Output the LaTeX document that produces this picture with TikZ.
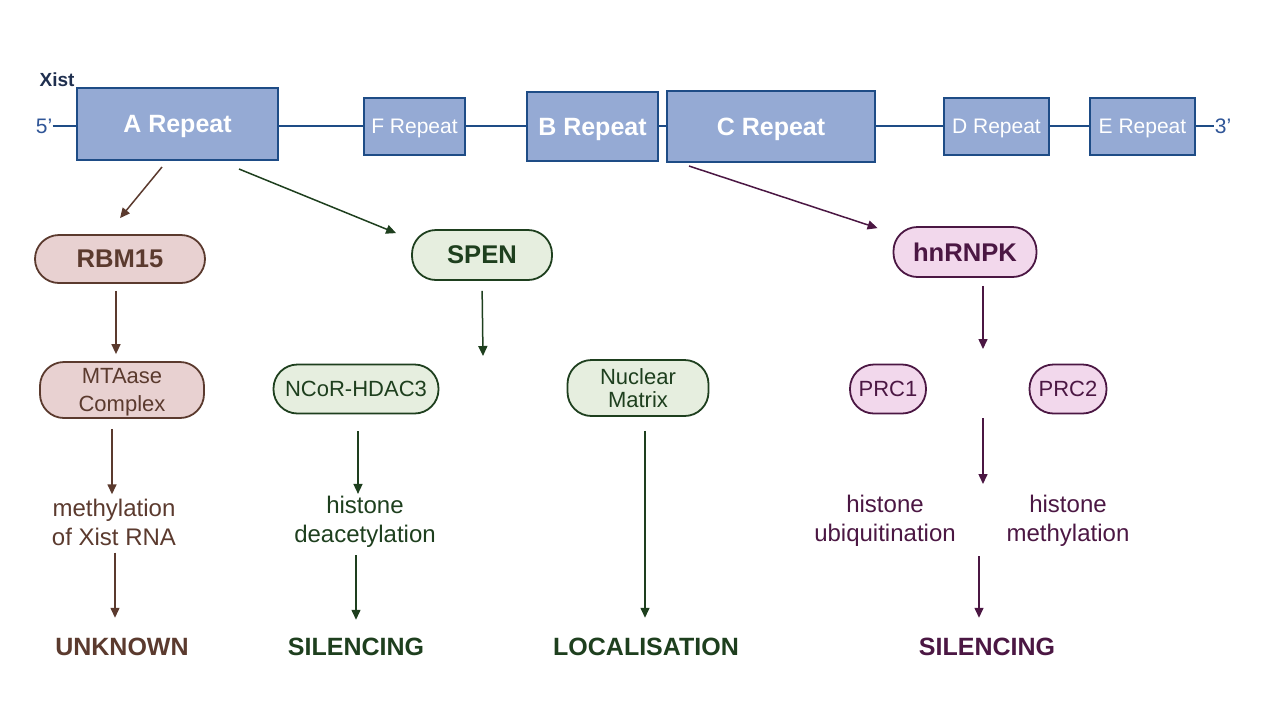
\documentclass[tikz,border=0pt]{standalone}
\usepackage{fontspec}
\setmainfont{Liberation Sans}
\usetikzlibrary{arrows.meta}

\definecolor{repfill}{HTML}{95AAD4}
\definecolor{repline}{HTML}{1E4C86}
\definecolor{xistcol}{HTML}{1F2F4F}
\definecolor{endcol}{HTML}{2F5597}
\definecolor{brn}{HTML}{5B3A2E}
\definecolor{brnfill}{HTML}{E8D1D1}
\definecolor{grn}{HTML}{1E3F1E}
\definecolor{grnfill}{HTML}{E6EEDF}
\definecolor{prp}{HTML}{4B1743}
\definecolor{prpfill}{HTML}{F2D8EC}

\begin{document}
\begin{tikzpicture}[x=0.5pt,y=-0.5pt,
    rep/.style={draw=repline,fill=repfill,line width=1pt,text=white,inner sep=0pt,text depth=0pt},
    bigrep/.style={rep,font=\fontsize{12.5}{15}\selectfont\bfseries},
    smallrep/.style={rep,font=\fontsize{10.5}{12}\selectfont},
    pill/.style={rectangle,rounded corners=12pt,line width=0.9pt,inner sep=0pt,align=center,
        font=\fontsize{11}{14}\selectfont},
    bpill/.style={pill,draw=brn,fill=brnfill,text=brn},
    gpill/.style={pill,draw=grn,fill=grnfill,text=grn},
    ppill/.style={pill,draw=prp,fill=prpfill,text=prp},
    head/.style={font=\fontsize{12.8}{15}\selectfont\bfseries},
    effect/.style={inner sep=0pt,align=center,font=\fontsize{12}{14.5}\selectfont},
    result/.style={inner sep=0pt,font=\fontsize{12.5}{15}\selectfont\bfseries},
    backbone/.style={draw=repline,line width=1pt},
    arr/.style={line width=0.75pt,-{Triangle[width=4.5pt,length=5pt]}},
    barr/.style={arr,draw=brn},
    garr/.style={arr,draw=grn},
    parr/.style={arr,draw=prp}]

    \useasboundingbox (0,0) rectangle (1280,720);

    % Xist transcript
    \node[font=\fontsize{9.5}{11}\selectfont\bfseries,text=xistcol] (xist) at (57,80) {Xist};
    \node[font=\fontsize{10.5}{12}\selectfont,text=endcol,inner sep=0pt,text depth=0pt] (five) at (44,126) {5'};
    \node[font=\fontsize{10.5}{12}\selectfont,text=endcol,inner sep=0pt,text depth=0pt] (three) at (1223,126) {3'};

    \node[bigrep,minimum width=100.5pt,minimum height=36pt] (arep) at (177.5,124) {A Repeat};
    \node[smallrep,minimum width=50.5pt,minimum height=28.5pt] (frep) at (414.5,126.5) {F Repeat};
    \node[bigrep,minimum width=65.5pt,minimum height=34.5pt] (brep) at (592.5,126.5) {B Repeat};
    \node[bigrep,minimum width=104pt,minimum height=35.5pt] (crep) at (771,126.5) {C Repeat};
    \node[smallrep,minimum width=52.5pt,minimum height=28.5pt] (drep) at (996.5,126.5) {D Repeat};
    \node[smallrep,minimum width=52.5pt,minimum height=28.5pt] (erep) at (1142.5,126.5) {E Repeat};

    % Backbone
    \draw[backbone] (five.east) -- (five.east -| arep.west);
    \draw[backbone] (arep.east |- five) -- (five -| frep.west);
    \draw[backbone] (frep.east |- five) -- (five -| brep.west);
    \draw[backbone] (brep.east |- five) -- (five -| crep.west);
    \draw[backbone] (crep.east |- five) -- (five -| drep.west);
    \draw[backbone] (drep.east |- five) -- (five -| erep.west);
    \draw[backbone] (erep.east |- three) -- (three.west);

    % Binding proteins
    \node[bpill,head,minimum width=85pt,minimum height=24pt] (rbm) at (120,259) {RBM15};
    \node[gpill,head,minimum width=70pt,minimum height=25pt] (spen) at (482,255) {SPEN};
    \node[ppill,head,minimum width=71.5pt,minimum height=25pt] (hnrnpk) at (965,252) {hnRNPK};

    % Complexes
    \node[bpill,text depth=0pt,minimum width=82pt,minimum height=28pt] (mta) at (122,390) {MTAase\\Complex};
    \node[gpill,minimum width=82.5pt,minimum height=24.5pt] (ncor) at (356,389) {NCoR-HDAC3};
    \node[gpill,font=\fontsize{11}{11.5}\selectfont,minimum width=70.5pt,minimum height=28pt] (nuc) at (638,388) {Nuclear\\Matrix};
    \node[ppill,minimum width=38pt,minimum height=24.5pt] (prc1) at (888,389) {PRC1};
    \node[ppill,minimum width=38.5pt,minimum height=24.5pt] (prc2) at (1068,389) {PRC2};

    % Effects
    \node[effect,text=brn] (meth) at (114,522) {methylation\\of Xist RNA};
    \node[effect,text=grn] (deac) at (365,522) {histone\\deacetylation};
    \node[effect,text=prp] (ubiq) at (885,521) {histone\\ubiquitination};
    \node[effect,text=prp] (hmeth) at (1068,521) {histone\\methylation};

    % Outcomes
    \node[result,text=brn] (unk) at (122,647) {UNKNOWN};
    \node[result,text=grn] (sil1) at (356,647) {SILENCING};
    \node[result,text=grn] (loc) at (646,647) {LOCALISATION};
    \node[result,text=prp] (sil2) at (987,647) {SILENCING};

    % Free ends
    \coordinate (spenend) at (483,356);
    \coordinate (kend) at (983,349);
    \coordinate (kstart) at (983,418);
    \coordinate (kmid) at (983,484);
    \coordinate (kout) at (979,556);

    % Arrows from the repeats
    \draw[barr] ([xshift=43pt,yshift=-3pt]arep.south west) -- ([yshift=8pt]rbm.north);
    \draw[garr] ([xshift=81.5pt,yshift=-4pt]arep.south west) -- ([xshift=-7.5pt,yshift=-2pt]spen.north west);
    \draw[parr] ([xshift=11.5pt,yshift=-1.5pt]crep.south west) -- ([xshift=-7.5pt,yshift=-1pt]hnrnpk.north west);

    % RBM15 branch
    \draw[barr,shorten <=3.5pt,shorten >=3.5pt] ([xshift=-2pt]rbm.south) -- ([xshift=-2pt]rbm.south |- mta.north);
    \draw[barr,shorten <=5pt,shorten >=2pt] ([xshift=-5pt]mta.south) -- ([xshift=-5pt]mta.south |- meth.north);
    \draw[barr,shorten <=3.5pt,shorten >=10pt] ([xshift=0.5pt]meth.south) -- ([xshift=0.5pt]meth.south |- unk.north);

    % SPEN branch
    \draw[garr,shorten <=5pt] (spen.south) -- (spenend);
    \draw[garr,shorten <=8.5pt,shorten >=1pt] ([xshift=1pt]ncor.south) -- ([xshift=1pt]ncor.south |- deac.north);
    \draw[garr,shorten <=3.5pt,shorten >=9pt] ([xshift=-4.5pt]deac.south) -- ([xshift=-4.5pt]deac.south |- sil1.north);
    \draw[garr,shorten <=7pt,shorten >=10pt] ([xshift=3.5pt]nuc.south) -- ([xshift=3.5pt]nuc.south |- loc.north);

    % hnRNPK branch
    \draw[parr,shorten <=4pt] ([xshift=9pt]hnrnpk.south) -- (kend);
    \draw[parr] (kstart) -- (kmid);
    \draw[parr,shorten >=10pt] (kout) -- (kout |- sil2.north);

\end{tikzpicture}
\end{document}
